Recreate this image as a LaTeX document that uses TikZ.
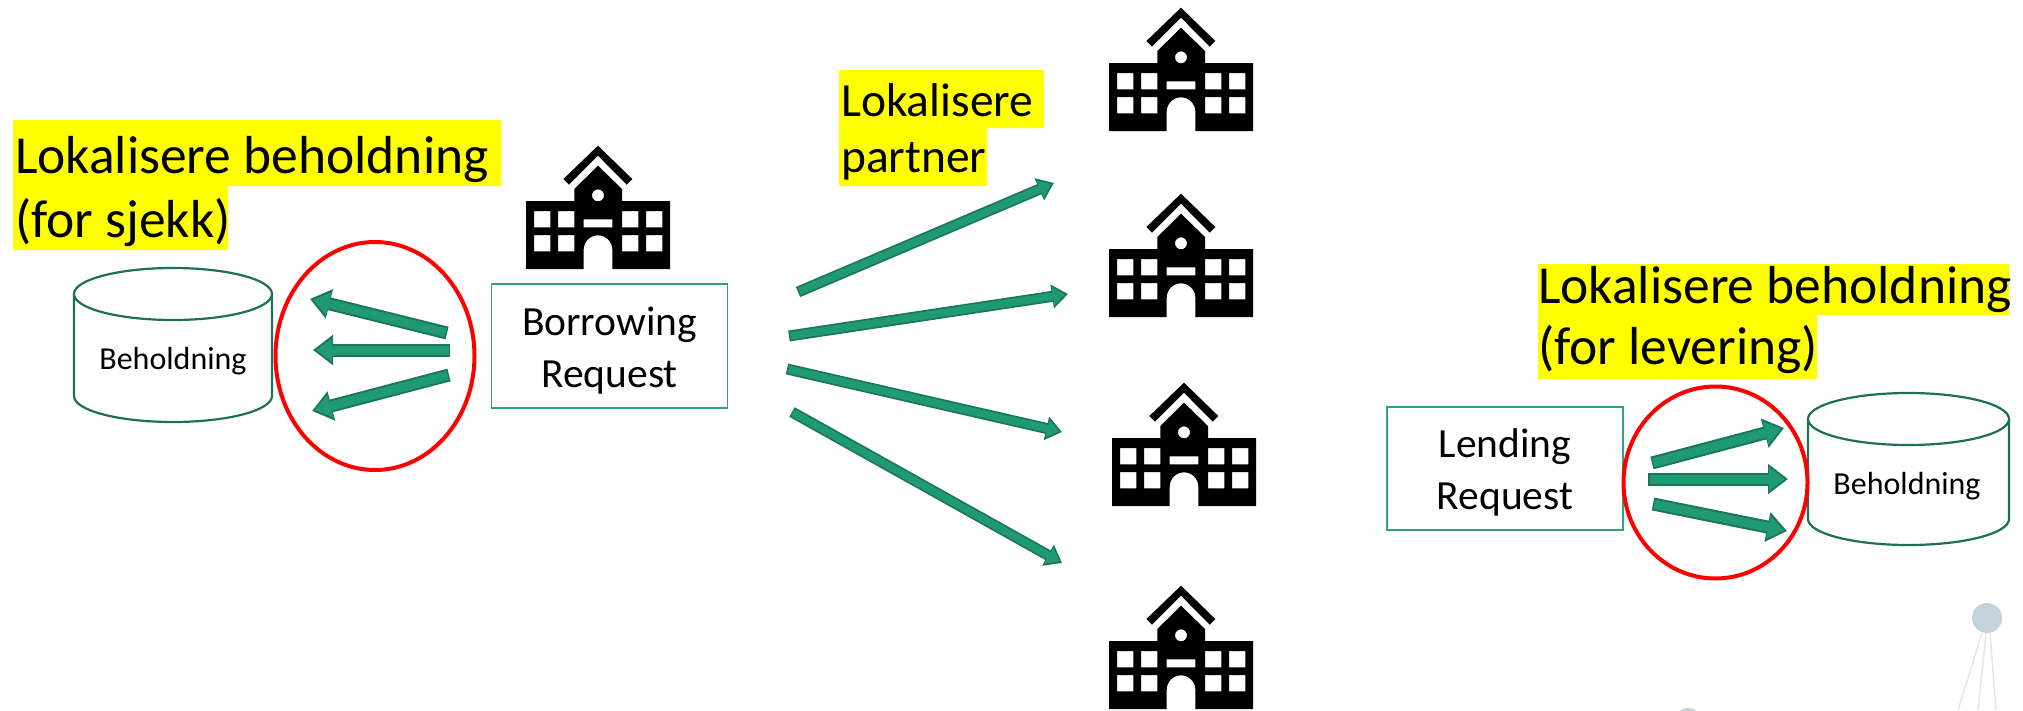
\documentclass[tikz,border=0pt]{standalone}
\usepackage{fontspec}
\setmainfont{Carlito}
\usetikzlibrary{arrows.meta,shapes.geometric}
\definecolor{arrowfill}{HTML}{1F9A74}
\definecolor{arrowedge}{HTML}{1A7659}
\definecolor{boxedge}{HTML}{2EA37E}
\definecolor{cyledge}{HTML}{1F6E58}
\definecolor{antennablue}{HTML}{C5D2DA}
\definecolor{antennaline}{HTML}{E4E7EA}
\definecolor{hiliteyellow}{HTML}{FFFF00}
\definecolor{pureblack}{HTML}{000000}
\definecolor{purered}{HTML}{FF0000}
\tikzset{
  blockarrow/.style={draw=arrowedge,line width=13pt,-{Triangle[length=20pt,width=29pt]},
    postaction={draw=arrowfill,line width=9pt,shorten >=3pt,shorten <=1.5pt,-{Triangle[length=16pt,width=22pt]}}},
  thinarrow/.style={draw=arrowedge,line width=11pt,-{Triangle[length=16pt,width=23pt]},
    postaction={draw=arrowfill,line width=7.5pt,shorten >=3pt,shorten <=1.5pt,-{Triangle[length=12pt,width=17pt]}}},
  reqbox/.style={draw=boxedge,line width=1.8pt,inner sep=0pt},
  reqtext/.style={align=center,inner sep=0pt,font=\fontsize{41.5}{52}\selectfont},
  ring/.style={draw=purered,line width=4pt},
  note/.style={font=\fontsize{53.5}{64}\selectfont,anchor=base west,inner sep=0pt},
  partnernote/.style={font=\fontsize{47.5}{56}\selectfont,anchor=base west,inner sep=0pt},
  hilite/.style={fill=hiliteyellow,draw=none},
  cyltext/.style={font=\fontsize{32}{38}\selectfont,inner sep=0pt},
  cylline/.style={draw=cyledge,line width=2.2pt,fill=white},
  pics/school/.style={code={
    \begin{scope}[x=0.3333pt,y=-0.3333pt]
    \fill[pureblack,even odd rule]
      (-216,0)--(-216,-204)--(-71,-204)--(-71,-240)--(0,-310)--(72,-240)--(72,-204)--(216,-204)--(216,0)--(43,0)--(43,-58)
      arc[start angle=0,end angle=-180,radius=43]--(-43,0)--cycle
      (-192,-174) rectangle (-143,-125)
      (-120,-174) rectangle (-71,-125)
      (-192,-102) rectangle (-143,-53)
      (-120,-102) rectangle (-71,-53)
      (72,-174) rectangle (121,-125)
      (144,-174) rectangle (193,-125)
      (72,-102) rectangle (121,-53)
      (144,-102) rectangle (193,-53)
      (-43,-149) rectangle (43,-125)
      (0,-221) circle[radius=18];
    \fill[pureblack] (0,-370)--(103,-270)--(86,-253)--(0,-340)--(-87,-253)--(-104,-270)--cycle;
    \end{scope}
  }}
}
\newcommand{\cyl}[6]{% name, x1, x2, ytop, ybottom, ry
  \pgfmathsetmacro{\cx}{(#2+#3)/2}\pgfmathsetmacro{\rx}{(#3-#2)/2}
  \pgfmathsetmacro{\ya}{#4+#6}\pgfmathsetmacro{\yb}{#5-#6}
  \draw[cylline] (#2,\ya)--(#2,\yb) arc[start angle=180,end angle=0,x radius=\rx,y radius=#6]--(#3,\ya)
     arc[start angle=0,end angle=-180,x radius=\rx,y radius=#6]--cycle;
  \draw[cylline] (#2,\ya) arc[start angle=180,end angle=0,x radius=\rx,y radius=#6];
  \coordinate (#1) at (\cx,#4);
}
\begin{document}
\begin{tikzpicture}[x=1pt,y=-1pt]
\useasboundingbox (0,0) rectangle (2023,710);
% faint background marks
\draw[draw=antennaline,line width=1.5pt] (1982,633)--(1958,710) (1986,633)--(1978,710) (1990,633)--(1996,710);
\node[circle,fill=antennablue,minimum size=30pt,inner sep=0pt] (antenna) at (1987,618) {};
\begin{scope}
\clip (1660,700) rectangle (1720,710);
\node[circle,fill=antennablue,minimum size=28pt,inner sep=0pt] (blip) at (1688,722) {};
\end{scope}
% highlights
\fill[hilite] (13,120) rectangle (501,186) (13,186) rectangle (228,250);
\fill[hilite] (839,70) rectangle (1044,128) (839,128) rectangle (987,186);
\fill[hilite] (1538,264) rectangle (2009,315) (1538,315) rectangle (1817,379);
% notes
\node[note] (n1a) at (15,173.5) {Lokalisere beholdning};
\node[note] (n1b) at (15,237.5) {(for sjekk)};
\node[partnernote] (n2a) at (841,116) {Lokalisere};
\node[partnernote] (n2b) at (841,172) {partner};
\node[note] (n3a) at (1538,303) {Lokalisere beholdning};
\node[note] (n3b) at (1538,364) {(for levering)};
% schools
\pic (s0) at (598,269) {school};
\pic (s1) at (1181,131) {school};
\pic (s2) at (1181,317) {school};
\pic (s3) at (1184,506) {school};
\pic (s4) at (1181,709) {school};
% cylinders
\cyl{cyla}{74}{272}{268}{422}{26}
\node[cyltext] (ta) at (173,361) {Beholdning};
\cyl{cylb}{1808}{2009}{393}{545}{26}
\node[cyltext] (tb) at (1907,486) {Beholdning};
% boxes
\node[reqbox,minimum width=236pt,minimum height=124pt] (borrow) at (609.5,346) {};
\node[reqtext,yshift=-5pt] (borrowtext) at (borrow.center) {Borrowing\\Request};
\node[reqbox,minimum width=236pt,minimum height=123pt] (lend) at (1505,468.5) {};
\node[reqtext,yshift=-4pt] (lendtext) at (lend.center) {Lending\\Request};
% rings
\node[ring,ellipse,minimum width=199pt,minimum height=228pt,inner sep=0pt] (ra) at (375,356) {};
\node[ring,ellipse,minimum width=184pt,minimum height=192pt,inner sep=0pt] (rb) at (1715.5,482.5) {};
% arrow ends
\coordinate (a1s) at (447,333); \coordinate (a1e) at (310,299);
\coordinate (a2s) at (450,350); \coordinate (a2e) at (313,350);
\coordinate (a3s) at (449,375); \coordinate (a3e) at (312,411);
\coordinate (b1s) at (798,292); \coordinate (b1e) at (1054,183);
\coordinate (b2s) at (789,336); \coordinate (b2e) at (1068,294);
\coordinate (b3s) at (787,369); \coordinate (b3e) at (1062,432);
\coordinate (b4s) at (792,412); \coordinate (b4e) at (1062,563);
\coordinate (c1s) at (1652,463); \coordinate (c1e) at (1784,428);
\coordinate (c2s) at (1648,479); \coordinate (c2e) at (1788,479);
\coordinate (c3s) at (1653,504); \coordinate (c3e) at (1787,531);
\foreach \p in {a1,a2,a3,c1,c2,c3}{\draw[blockarrow] (\p s)--(\p e);}
\foreach \p in {b1,b2,b3,b4}{\draw[thinarrow] (\p s)--(\p e);}
\end{tikzpicture}
\end{document}
